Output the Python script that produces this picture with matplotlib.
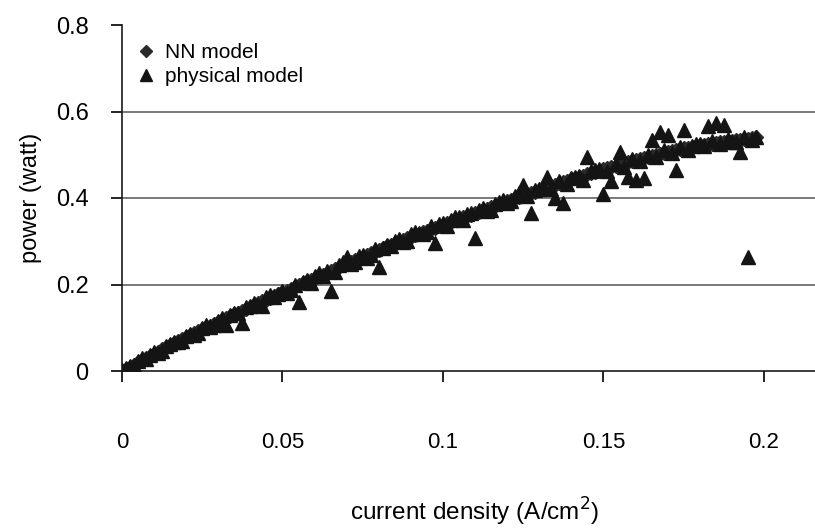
import matplotlib
matplotlib.use("Agg")
import matplotlib.pyplot as plt

plt.rcParams['font.family'] = ['Liberation Sans', 'DejaVu Sans']

# Set A of measurement points
current_density_a = [
    0.000, 0.0025, 0.005, 0.0075, 0.010, 0.0125, 0.015, 0.0175, 0.020, 0.0225,
    0.025, 0.0275, 0.030, 0.0325, 0.035, 0.0375, 0.040, 0.0425, 0.045, 0.0475,
    0.050, 0.0525, 0.055, 0.0575, 0.060, 0.0625, 0.065, 0.0675, 0.070, 0.0725,
    0.075, 0.0775, 0.080, 0.0825, 0.085, 0.0875, 0.090, 0.0925, 0.095, 0.0975,
    0.100, 0.1025, 0.105, 0.1075, 0.110, 0.1125, 0.115, 0.1175, 0.120, 0.1225,
    0.125, 0.1275, 0.130, 0.1325, 0.135, 0.1375, 0.140, 0.1425, 0.145, 0.1475,
    0.150, 0.1525, 0.155, 0.1575, 0.160, 0.1625, 0.165, 0.1675, 0.170, 0.1725,
    0.175, 0.1775, 0.180, 0.1825, 0.185, 0.1875, 0.190, 0.1925, 0.195, 0.1975,
]
nn_power_a = [
    0.000, 0.010, 0.020, 0.030, 0.040, 0.050, 0.059, 0.069, 0.078, 0.087,
    0.096, 0.104, 0.113, 0.122, 0.131, 0.139, 0.148, 0.157, 0.165, 0.174,
    0.182, 0.190, 0.198, 0.207, 0.215, 0.223, 0.232, 0.240, 0.248, 0.256,
    0.264, 0.272, 0.280, 0.288, 0.295, 0.303, 0.310, 0.317, 0.324, 0.331,
    0.338, 0.345, 0.352, 0.358, 0.365, 0.372, 0.379, 0.385, 0.392, 0.399,
    0.405, 0.412, 0.418, 0.424, 0.431, 0.437, 0.443, 0.449, 0.455, 0.460,
    0.466, 0.472, 0.477, 0.483, 0.488, 0.493, 0.498, 0.502, 0.507, 0.511,
    0.515, 0.518, 0.522, 0.525, 0.527, 0.530, 0.532, 0.534, 0.537, 0.540,
]
physical_power_a = [
    0.002, 0.012, 0.024, 0.028, 0.043, 0.047, 0.062, 0.066, 0.081, 0.084,
    0.099, 0.101, 0.116, 0.106, 0.134, 0.111, 0.151, 0.153, 0.170, 0.170,
    0.186, 0.187, 0.160, 0.211, 0.219, 0.220, 0.184, 0.244, 0.264, 0.252,
    0.268, 0.268, 0.240, 0.292, 0.300, 0.299, 0.316, 0.320, 0.321, 0.296,
    0.342, 0.350, 0.355, 0.362, 0.308, 0.377, 0.372, 0.390, 0.389, 0.404,
    0.430, 0.365, 0.421, 0.449, 0.400, 0.388, 0.446, 0.452, 0.495, 0.464,
    0.410, 0.440, 0.506, 0.448, 0.442, 0.446, 0.534, 0.553, 0.545, 0.465,
    0.557, 0.521, 0.524, 0.566, 0.573, 0.569, 0.530, 0.506, 0.264, 0.541,
]

# Set B of measurement points
current_density_b = [
    0.00125, 0.00375, 0.00625, 0.00875, 0.01125, 0.01375, 0.01625, 0.01875, 0.02125, 0.02375,
    0.02625, 0.02875, 0.03125, 0.03375, 0.03625, 0.03875, 0.04125, 0.04375, 0.04625, 0.04875,
    0.05125, 0.05375, 0.05625, 0.05875, 0.06125, 0.06375, 0.06625, 0.06875, 0.07125, 0.07375,
    0.07625, 0.07875, 0.08125, 0.08375, 0.08625, 0.08875, 0.09125, 0.09375, 0.09625, 0.09875,
    0.10125, 0.10375, 0.10625, 0.10875, 0.11125, 0.11375, 0.11625, 0.11875, 0.12125, 0.12375,
    0.12625, 0.12875, 0.13125, 0.13375, 0.13625, 0.13875, 0.14125, 0.14375, 0.14625, 0.14875,
    0.15125, 0.15375, 0.15625, 0.15875, 0.16125, 0.16375, 0.16625, 0.16875, 0.17125, 0.17375,
    0.17625, 0.17875, 0.18125, 0.18375, 0.18625, 0.18875, 0.19125, 0.19375, 0.19625,
]
nn_power_b = [
    0.005, 0.015, 0.025, 0.035, 0.045, 0.0545, 0.064, 0.0735, 0.0825, 0.0915,
    0.100, 0.1085, 0.1175, 0.1265, 0.135, 0.1435, 0.1525, 0.161, 0.1695, 0.178,
    0.186, 0.194, 0.2025, 0.211, 0.219, 0.2275, 0.236, 0.244, 0.252, 0.260,
    0.268, 0.276, 0.284, 0.2915, 0.299, 0.3065, 0.3135, 0.3205, 0.3275, 0.3345,
    0.3415, 0.3485, 0.355, 0.3615, 0.3685, 0.3755, 0.382, 0.3885, 0.3955, 0.402,
    0.4085, 0.415, 0.421, 0.4275, 0.434, 0.440, 0.446, 0.452, 0.4575, 0.463,
    0.469, 0.4745, 0.480, 0.4855, 0.4905, 0.4955, 0.500, 0.5045, 0.509, 0.513,
    0.5165, 0.520, 0.5235, 0.526, 0.5285, 0.531, 0.533, 0.5355, 0.5385,
]
physical_power_b = [
    0.008, 0.013, 0.030, 0.037, 0.042, 0.058, 0.066, 0.070, 0.086, 0.089,
    0.107, 0.106, 0.123, 0.130, 0.134, 0.147, 0.158, 0.150, 0.175, 0.179,
    0.180, 0.200, 0.205, 0.204, 0.226, 0.232, 0.228, 0.252, 0.247, 0.266,
    0.262, 0.281, 0.285, 0.290, 0.305, 0.300, 0.322, 0.316, 0.336, 0.340,
    0.335, 0.356, 0.349, 0.365, 0.373, 0.371, 0.385, 0.396, 0.392, 0.412,
    0.404, 0.418, 0.428, 0.420, 0.440, 0.432, 0.448, 0.442, 0.463, 0.468,
    0.462, 0.478, 0.472, 0.490, 0.486, 0.500, 0.495, 0.510, 0.503, 0.518,
    0.512, 0.525, 0.520, 0.532, 0.526, 0.537, 0.530, 0.542, 0.535,
]

x_ticks = [0, 0.05, 0.1, 0.15, 0.2]
x_tick_labels = ['0', '0.05', '0.1', '0.15', '0.2']
y_ticks = [0, 0.2, 0.4, 0.6, 0.8]
y_tick_labels = ['0', '0.2', '0.4', '0.6', '0.8']

current_density = current_density_a + current_density_b
nn_power = nn_power_a + nn_power_b
physical_power = physical_power_a + physical_power_b

fig = plt.figure(figsize=(8.15, 5.28), dpi=100)
ax = fig.add_axes([122 / 815, 157 / 528, 693 / 815, 346 / 528])

ax.plot(current_density, nn_power, linestyle='none', marker='D', markersize=7.5,
        color='#2a2a2a', label='NN model', zorder=3)
ax.plot(current_density, physical_power, linestyle='none', marker='^', markersize=9.5,
        color='#141414', label='physical model', zorder=4)

ax.set_xlim(0, 0.2159)
ax.set_ylim(0, 0.8)

for g in [0.2, 0.4, 0.6]:
    ax.axhline(g, color='#6e6e6e', linewidth=1.3, zorder=1)

ax.set_xticks(x_ticks)
ax.set_xticklabels(x_tick_labels)
ax.set_yticks(y_ticks)
ax.set_yticklabels(y_tick_labels)

ax.tick_params(axis='x', direction='out', length=8, width=1.2, pad=36, labelsize=16)
ax.tick_params(axis='y', direction='out', length=8, width=1.2, pad=16, labelsize=17)

for s in ['top', 'right']:
    ax.spines[s].set_visible(False)
for s in ['left', 'bottom']:
    ax.spines[s].set_linewidth(1.2)
    ax.spines[s].set_color('#1a1a1a')

ax.set_ylabel('power (watt)', fontsize=17, labelpad=10)
fig.text(0.582, 0.0, r'current density (A/cm$^{2}$)', fontsize=17.5,
         ha='center', va='bottom')

leg = ax.legend(loc='upper left', bbox_to_anchor=(-0.004, 0.99), frameon=False,
                fontsize=15, handletextpad=0.3, labelspacing=0.25,
                handlelength=1.2, borderaxespad=0.3, markerscale=0.85)

fig.savefig('out.png', dpi=100)
